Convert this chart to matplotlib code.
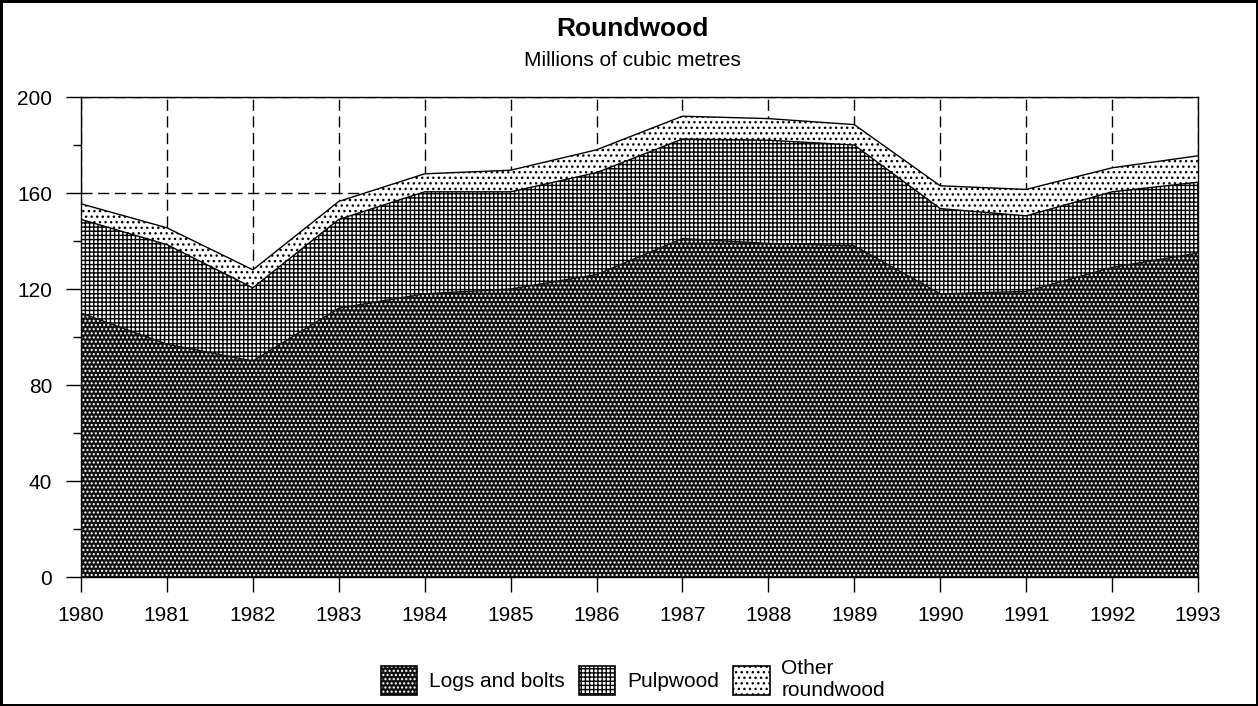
import numpy as np
import matplotlib
matplotlib.use("Agg")
import matplotlib.pyplot as plt
from matplotlib.patches import Patch
from matplotlib.legend_handler import HandlerTuple

years = np.arange(1980, 1994)

# millions of cubic metres
logs_and_bolts = [110, 97, 90, 112, 118, 120, 126, 141, 139, 138, 118, 119, 129, 135]
pulpwood = [39, 41.5, 30.5, 37, 42.5, 40.5, 42.5, 41.5, 43, 42, 35.5, 31.5, 31.5, 29.5]
other_roundwood = [6.5, 7, 7.5, 7.5, 7.5, 9, 9.5, 9.5, 9, 8.5, 9.5, 11, 10, 11]

series_labels = ["Logs and bolts", "Pulpwood", "Other\nroundwood"]

plt.rcParams.update({
    "font.family": ["Liberation Sans", "DejaVu Sans"],
    "hatch.linewidth": 1.0,
})

fig = plt.figure(figsize=(12.58, 7.06), dpi=100)
fig.patch.set_edgecolor("black")
fig.patch.set_linewidth(2.5)

ax = fig.add_axes([0.0644, 0.1827, 0.8879, 0.6799])

lower = np.zeros(len(years))
layer1 = lower + np.array(logs_and_bolts)
layer2 = layer1 + np.array(pulpwood)
layer3 = layer2 + np.array(other_roundwood)

# logs: dark with light dots, pulp: fine grid, other: sparse dots
logs_face = "#111111"
ax.fill_between(years, lower, layer1, facecolor=logs_face, edgecolor="white",
                hatch="....", linewidth=0, zorder=1)
ax.fill_between(years, layer1, layer2, facecolor="white", edgecolor="black",
                hatch="++++", linewidth=0, zorder=1)
ax.fill_between(years, layer2, layer3, facecolor="white", edgecolor="black",
                hatch="...", linewidth=0, zorder=1)
ax.plot(years, layer1, color=logs_face, lw=1.0, zorder=2)
ax.plot(years, layer2, color="black", lw=1.0, zorder=2)
ax.plot(years, layer3, color="black", lw=1.0, zorder=2)

ax.set_xlim(1980, 1993)
ax.set_ylim(0, 200)
ax.set_xticks(years)
ax.set_yticks(np.arange(0, 201, 40))
ax.set_yticks(np.arange(20, 200, 40), minor=True)

ax.grid(True, which="major", color="black", linewidth=1.0, linestyle=(0, (8, 4)))
ax.set_axisbelow(True)

for s in ax.spines.values():
    s.set_linewidth(1.0)

ax.tick_params(axis="both", which="major", direction="out", length=10.8, width=1.0,
               labelsize=15, pad=10)
ax.tick_params(axis="y", which="minor", direction="out", length=5.8, width=1.0)

fig.text(0.503, 0.949, "Roundwood", ha="center", va="baseline",
         fontsize=19, fontweight="bold")
fig.text(0.503, 0.9065, "Millions of cubic metres", ha="center", va="baseline",
         fontsize=15)

h_logs = (Patch(facecolor=logs_face, edgecolor="white", hatch="....", linewidth=0),
          Patch(facecolor="none", edgecolor="black", linewidth=1.2))
h_pulp = Patch(facecolor="white", edgecolor="black", hatch="++++", linewidth=1.2)
h_other = Patch(facecolor="white", edgecolor="black", hatch="...", linewidth=1.2)

fig.legend([h_logs, h_pulp, h_other], series_labels,
           loc="center", bbox_to_anchor=(0.503, 0.037), ncol=3, frameon=False,
           fontsize=15, handlelength=1.75, handleheight=1.75, handletextpad=0.55,
           columnspacing=0.7, labelspacing=0.0,
           handler_map={tuple: HandlerTuple(ndivide=1)})

fig.savefig("out.png", dpi=100)
